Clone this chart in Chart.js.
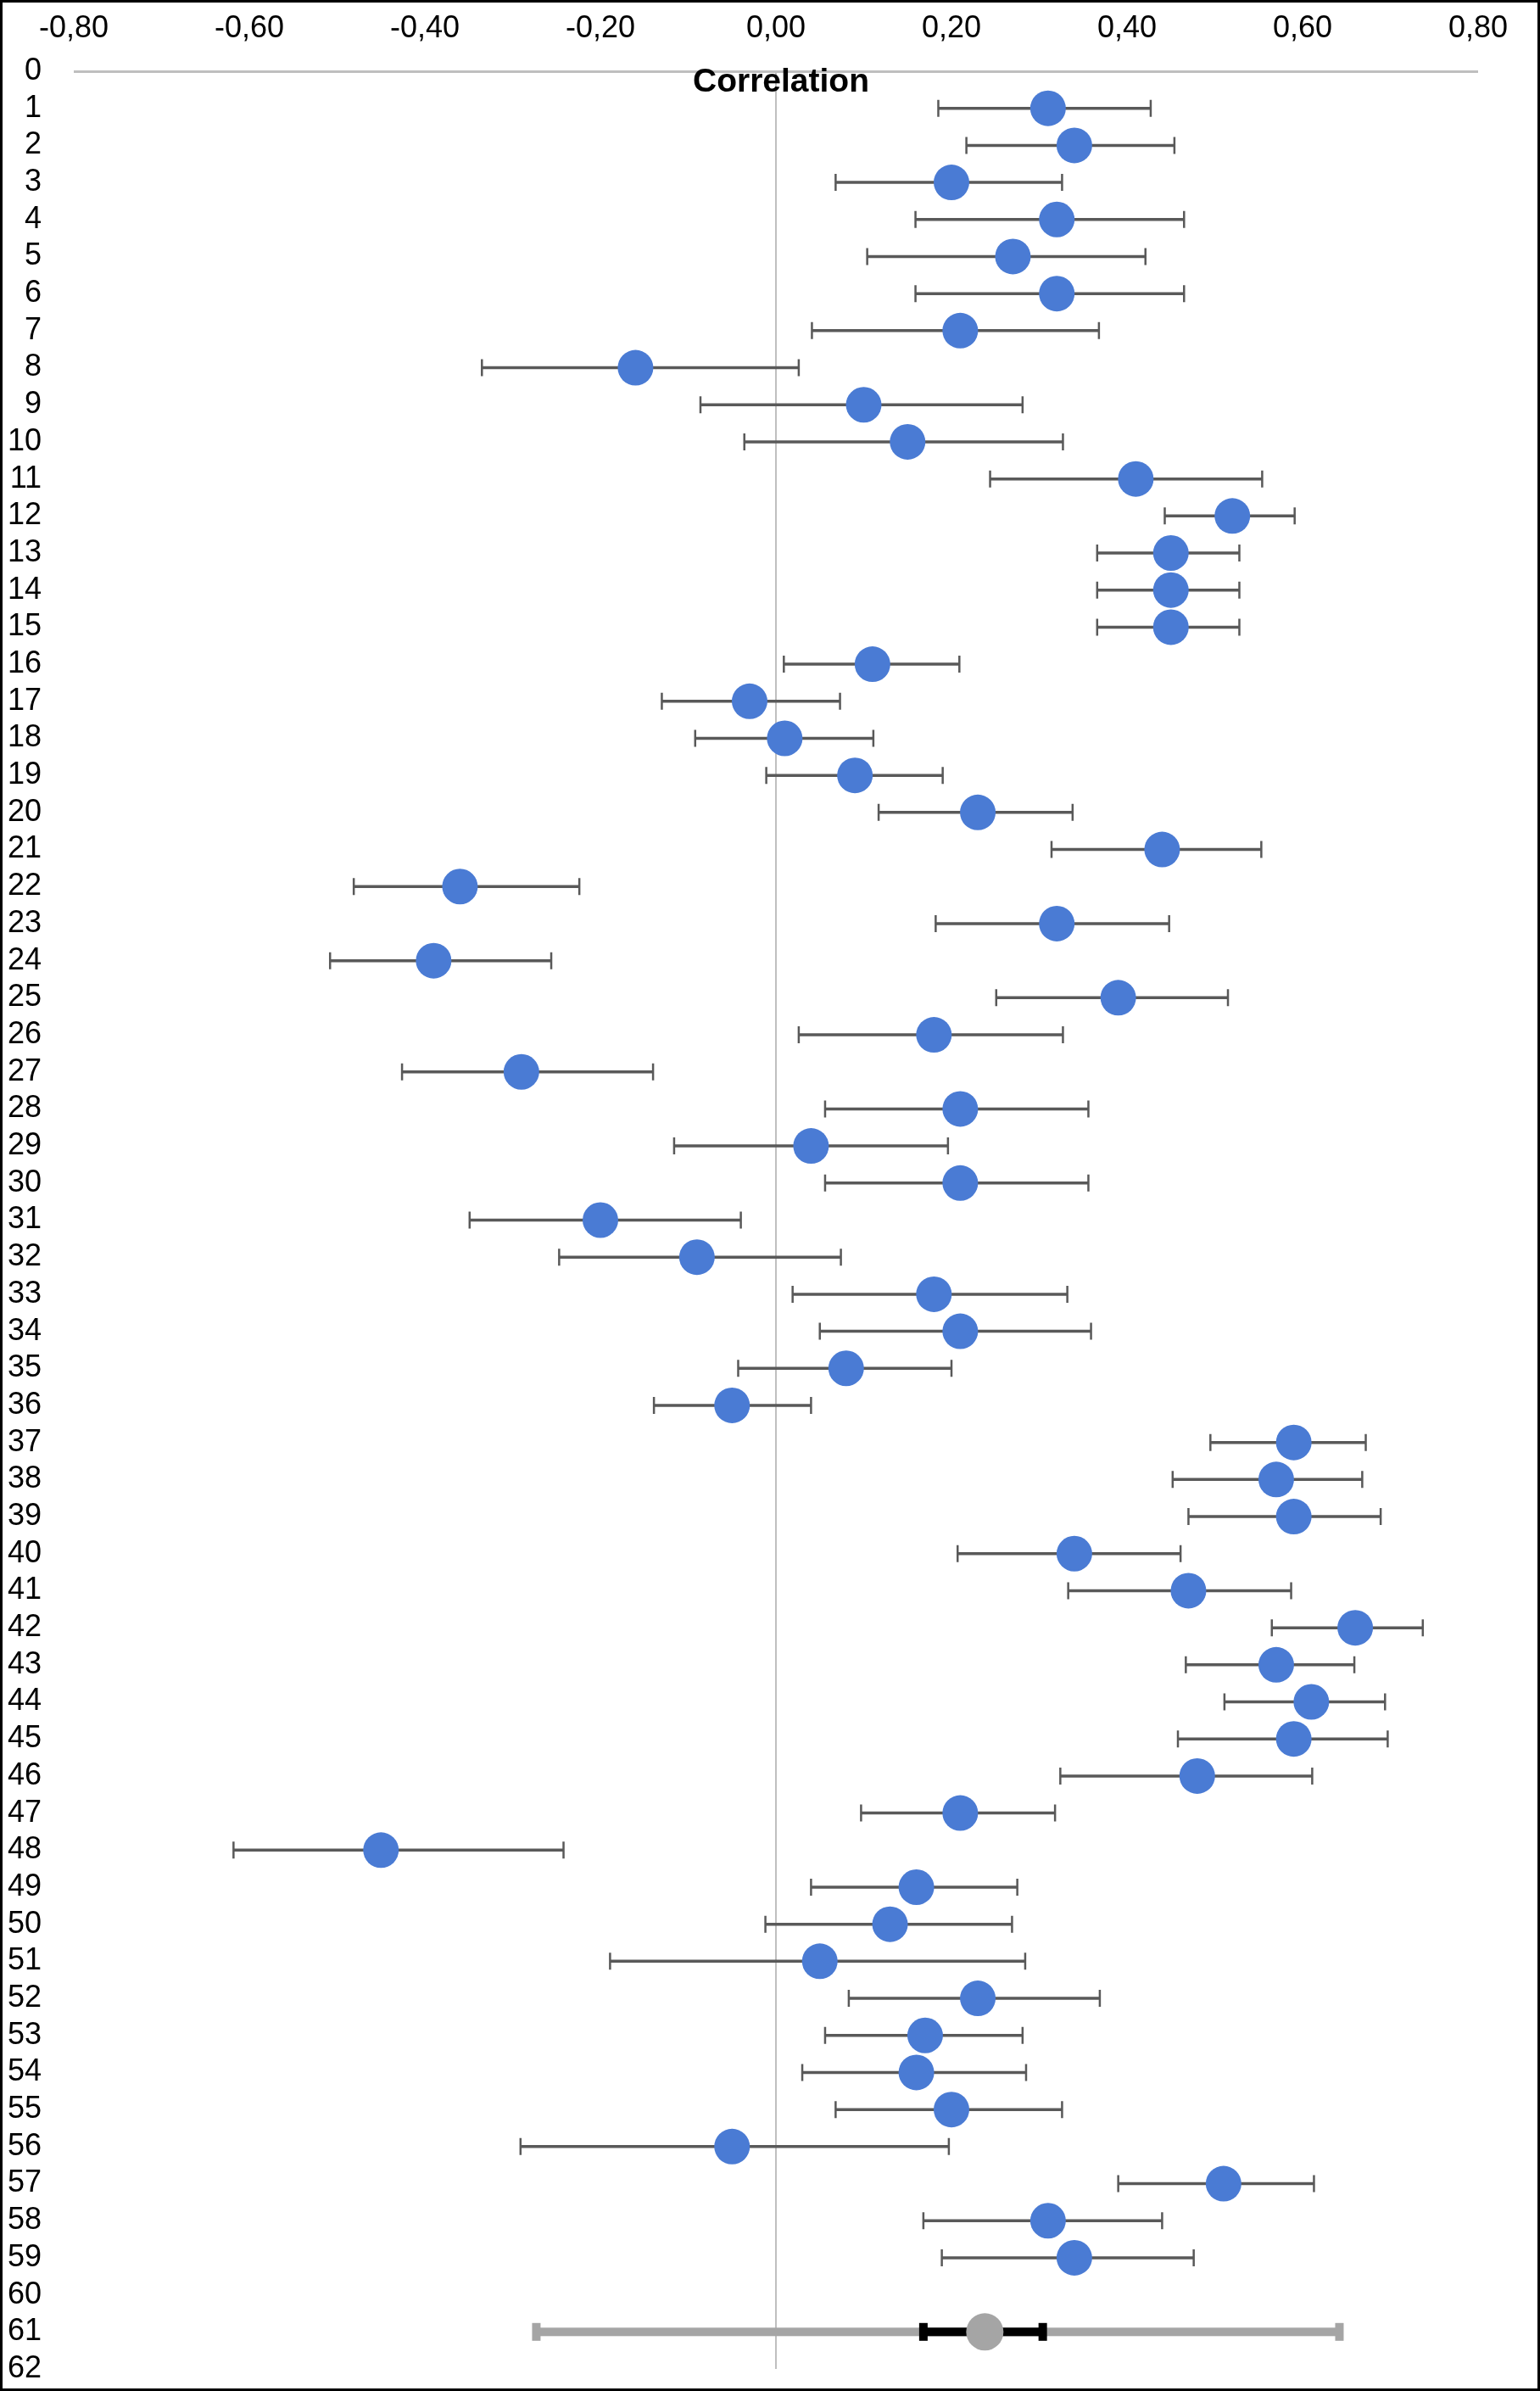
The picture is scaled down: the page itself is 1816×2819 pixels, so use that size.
<!DOCTYPE html>
<html>
<head>
<meta charset="utf-8">
<script src="https://cdn.jsdelivr.net/npm/chart.js@4.4.1/dist/chart.umd.min.js"></script>
<style>
  html, body { margin: 0; padding: 0; background: #fff; }
  #frame { width: 1816px; height: 2819px; box-sizing: border-box; border: 3px solid #000; }
  #forest { display: block; }
</style>
</head>
<body>
<div id="frame"><canvas id="forest" width="1810" height="2813"></canvas></div>
<script>
// studies, one per row
const studies = [1, 2, 3, 4, 5, 6, 7, 8, 9, 10, 11, 12, 13, 14, 15, 16, 17, 18, 19, 20,
  21, 22, 23, 24, 25, 26, 27, 28, 29, 30, 31, 32, 33, 34, 35, 36, 37, 38, 39, 40,
  41, 42, 43, 44, 45, 46, 47, 48, 49, 50, 51, 52, 53, 54, 55, 56, 57, 58, 59];
const corr = [0.31, 0.34, 0.20, 0.32, 0.27, 0.32, 0.21, -0.16, 0.10, 0.15, 0.41, 0.52, 0.45, 0.45, 0.45, 0.11, -0.03, 0.01, 0.09, 0.23,
  0.44, -0.36, 0.32, -0.39, 0.39, 0.18, -0.29, 0.21, 0.04, 0.21, -0.20, -0.09, 0.18, 0.21, 0.08, -0.05, 0.59, 0.57, 0.59, 0.34,
  0.47, 0.66, 0.57, 0.61, 0.59, 0.48, 0.21, -0.45, 0.16, 0.13, 0.05, 0.23, 0.17, 0.16, 0.20, -0.05, 0.51, 0.31, 0.34];
const ciLow = [0.185, 0.217, 0.068, 0.159, 0.104, 0.159, 0.041, -0.335, -0.086, -0.036, 0.244, 0.443, 0.366, 0.366, 0.366, 0.009, -0.130, -0.092, -0.011, 0.117,
  0.314, -0.481, 0.182, -0.508, 0.251, 0.026, -0.426, 0.056, -0.116, 0.056, -0.349, -0.247, 0.019, 0.050, -0.043, -0.139, 0.495, 0.452, 0.470, 0.207,
  0.333, 0.565, 0.467, 0.511, 0.458, 0.324, 0.097, -0.618, 0.040, -0.012, -0.189, 0.083, 0.056, 0.030, 0.068, -0.291, 0.390, 0.168, 0.189];
const ciHigh = [0.427, 0.454, 0.326, 0.465, 0.421, 0.465, 0.368, 0.026, 0.281, 0.327, 0.554, 0.591, 0.528, 0.528, 0.528, 0.209, 0.073, 0.111, 0.190, 0.338,
  0.553, -0.224, 0.448, -0.256, 0.515, 0.327, -0.140, 0.356, 0.196, 0.356, -0.040, 0.074, 0.332, 0.359, 0.200, 0.040, 0.672, 0.668, 0.689, 0.461,
  0.587, 0.737, 0.659, 0.694, 0.697, 0.611, 0.318, -0.242, 0.275, 0.269, 0.284, 0.369, 0.281, 0.285, 0.326, 0.197, 0.613, 0.440, 0.476];

// pooled estimate
const pooledRow = [61];
const pooledCorr = [0.238];
const pooledCiLow = [0.168];
const pooledCiHigh = [0.304];
const predLow = [-0.273];
const predHigh = [0.642];

const FONT = "'Liberation Sans', Arial, sans-serif";

function fmt(v) {
  if (Math.abs(v) < 1e-9) v = 0;
  return v.toFixed(2).replace('.', ',');
}

const errorBars = {
  id: 'errorBars',
  beforeDatasetsDraw(chart) {
    const ctx = chart.ctx;
    const x = chart.scales.x, y = chart.scales.y;
    ctx.save();
    // study bars
    ctx.strokeStyle = '#595959';
    for (let i = 0; i < studies.length; i++) {
      const py = y.getPixelForValue(studies[i]);
      const x1 = x.getPixelForValue(ciLow[i]);
      const x2 = x.getPixelForValue(ciHigh[i]);
      ctx.lineWidth = 3.5;
      ctx.beginPath();
      ctx.moveTo(x1, py); ctx.lineTo(x2, py);
      ctx.stroke();
      ctx.lineWidth = 2.5;
      ctx.beginPath();
      ctx.moveTo(x1, py - 10); ctx.lineTo(x1, py + 10);
      ctx.moveTo(x2, py - 10); ctx.lineTo(x2, py + 10);
      ctx.stroke();
    }
    // pooled: prediction interval then confidence interval
    for (let i = 0; i < pooledRow.length; i++) {
      const py = y.getPixelForValue(pooledRow[i]);
      const bars = [[predLow[i], predHigh[i], '#a5a5a5'], [pooledCiLow[i], pooledCiHigh[i], '#000000']];
      bars.forEach(([lo, hi, col]) => {
        const x1 = x.getPixelForValue(lo);
        const x2 = x.getPixelForValue(hi);
        ctx.fillStyle = col;
        ctx.fillRect(x1, py - 5, x2 - x1, 10);
        ctx.fillRect(x1 - 5, py - 10.5, 10, 21);
        ctx.fillRect(x2 - 5, py - 10.5, 10, 21);
      });
    }
    ctx.restore();
  }
};

const axisTitle = {
  id: 'axisTitle',
  afterDraw(chart) {
    const ctx = chart.ctx;
    const x0 = chart.scales.x.getPixelForValue(0);
    ctx.save();
    ctx.font = 'bold 39px ' + FONT;
    ctx.fillStyle = '#000';
    ctx.textAlign = 'center';
    ctx.textBaseline = 'alphabetic';
    ctx.fillText('Correlation', x0 + 6, chart.chartArea.top + 24);
    ctx.restore();
  }
};

new Chart(document.getElementById('forest'), {
  type: 'scatter',
  data: {
    datasets: [
      {
        label: 'Studies',
        data: studies.map((s, i) => ({ x: corr[i], y: s })),
        backgroundColor: '#4a7bd4',
        borderWidth: 0,
        pointRadius: 21,
        pointHoverRadius: 21
      },
      {
        label: 'Pooled',
        data: pooledRow.map((r, i) => ({ x: pooledCorr[i], y: r })),
        backgroundColor: '#a5a5a5',
        borderWidth: 0,
        pointRadius: 22,
        pointHoverRadius: 22
      }
    ]
  },
  options: {
    responsive: false,
    devicePixelRatio: 1,
    animation: false,
    layout: { padding: { left: 0, right: 70, top: 0, bottom: 23 } },
    plugins: { legend: { display: false }, tooltip: { enabled: false } },
    scales: {
      x: {
        type: 'linear',
        position: 'top',
        min: -0.8,
        max: 0.8,
        afterFit(scale) { scale.height = 81; },
        border: { display: false },
        grid: {
          drawTicks: false,
          color: (c) => (c.tick && Math.abs(c.tick.value) < 1e-9) ? '#bfbfbf' : 'rgba(0,0,0,0)',
          lineWidth: 2
        },
        ticks: {
          stepSize: 0.2,
          padding: 28,
          color: '#000',
          font: { family: FONT, size: 36 },
          callback: (v) => fmt(v)
        }
      },
      y: {
        type: 'linear',
        reverse: true,
        min: 0,
        max: 62,
        afterFit(scale) {
          scale.width = 84;
          scale.paddingTop = 0;
          scale.paddingBottom = 0;
        },
        border: { display: false },
        grid: {
          drawTicks: false,
          color: (c) => (c.tick && c.tick.value === 0) ? '#bfbfbf' : 'rgba(0,0,0,0)',
          lineWidth: 3
        },
        ticks: {
          stepSize: 1,
          autoSkip: false,
          padding: 38,
          color: '#000',
          font: { family: FONT, size: 36 }
        }
      }
    }
  },
  plugins: [errorBars, axisTitle]
});
</script>
</body>
</html>
